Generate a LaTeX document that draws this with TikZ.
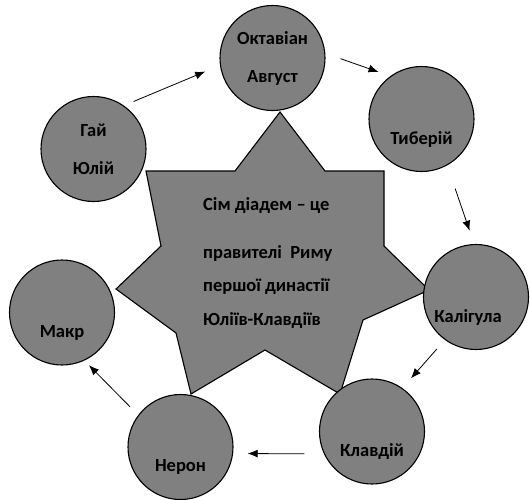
\documentclass[tikz,border=0pt]{standalone}
\usepackage{fontspec}
\setmainfont{Carlito}
\usetikzlibrary{arrows.meta}

\begin{document}
\begin{tikzpicture}[x=1pt,y=-1pt,
  font=\fontsize{18.5}{38}\selectfont\bfseries,
  ruler/.style={circle,draw=black,line width=1.1pt,fill=gray,minimum size=105pt,align=center},
  lowtext/.style={label={[yshift=-20pt]center:#1}},
  arr/.style={-{Latex[length=10pt,width=8pt]},line width=0.8pt}]
\useasboundingbox (0,0) rectangle (530,499);

% the seven-pointed star
\draw[fill=gray,line width=1.1pt,line join=miter] (280,112) -- (325,171) -- (384,171) -- (384,246) -- (429,290) -- (363,320) -- (340,394) -- (265,350) -- (191,394) -- (176,333) -- (116,289) -- (161,246) -- (146,171) -- (235,171) -- cycle;
\node[align=left,anchor=west,inner sep=0,font=\fontsize{18.5}{33.5}\selectfont\bfseries] (star) at (203,263)
  {Сім діадем – це\\[14pt] правителі~~Риму\\ першої династії\\ Юліїв-Клавдіїв};

\node[ruler] (gaius)    at (93.5,149)  {Гай\\ Юлій};
\node[ruler] (octavian) at (272.5,58)  {Октавіан\\ Август};
\node[ruler,lowtext=Тиберій] (tiberius) at (421.5,119) {};
\node[ruler,label={[yshift=-20pt,xshift=-8pt]center:Калігула}] (caligula) at (476,297) {};
\node[ruler,lowtext=Клавдій] (claudius) at (372,431.5) {};
\node[ruler,lowtext=Нерон]   (nero)     at (180.5,447) {};
\node[ruler,lowtext=Макр]    (macro)    at (62,312.5)  {};

\draw[arr,shorten <=10.5pt,shorten >=16pt] (gaius.55)     -- (octavian.188);
\draw[arr,shorten <=16pt,shorten >=12.5pt] (octavian.5)   -- (tiberius.126);
\draw[arr,shorten <=24.5pt,shorten >=14pt] (tiberius.-61) -- (caligula.92.5);
\draw[arr,shorten <=12pt,shorten >=13pt]   (caligula.234) -- (claudius.55);
\draw[arr,shorten <=19.5pt,shorten >=14.5pt] (claudius.205.4) -- (nero.-7.7);
\draw[arr,shorten <=11.5pt,shorten >=6.5pt]  (nero.143.6) -- (macro.-65.8);

\end{tikzpicture}
\end{document}
